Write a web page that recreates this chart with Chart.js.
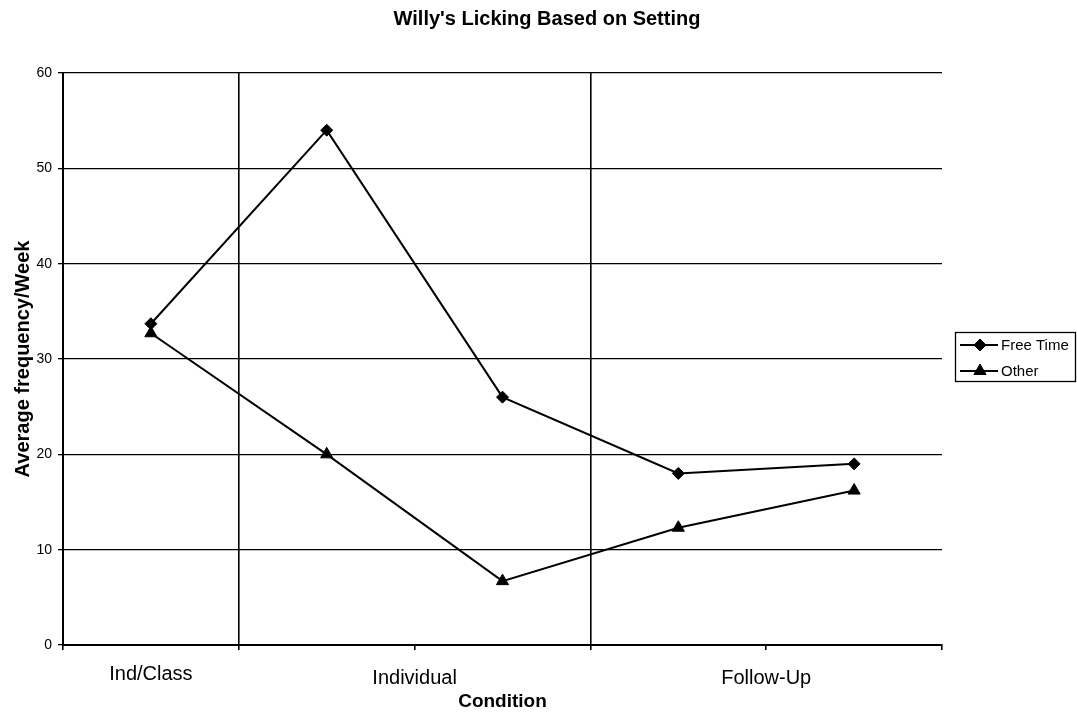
<!DOCTYPE html>
<html>
<head>
<meta charset="utf-8">
<script src="https://cdn.jsdelivr.net/npm/chart.js@4/dist/chart.umd.min.js"></script>
<style>
html,body{margin:0;padding:0;background:#fff;}
#wrap{width:1077px;height:713px;position:relative;}
</style>
</head>
<body>
<div id="wrap"><canvas id="c" width="1077" height="713"></canvas></div>
<script>
const categories = ['1', '2', '3', '4', '5'];
const freeTime = [33.7, 54.0, 26.0, 18.0, 19.0];
const other = [32.7, 20.0, 6.7, 12.3, 16.2];
const phaseLabels = ['Ind/Class', 'Individual', 'Follow-Up'];
const phasePositions = [0.5, 2, 4];
const phaseLineIndices = [1, 3];
const yTicks = [0, 10, 20, 30, 40, 50, 60];
const chartTitle = "Willy's Licking Based on Setting";
const seriesNames = ['Free Time', 'Other'];

const FONT = 'Arial, "Liberation Sans", sans-serif';

const decorPlugin = {
  id: 'decor',
  afterDraw(chart) {
    const ctx = chart.ctx;
    ctx.save();
    // title
    ctx.fillStyle = '#000';
    ctx.font = 'bold 20px ' + FONT;
    ctx.textAlign = 'center';
    ctx.textBaseline = 'alphabetic';
    ctx.fillText(chartTitle, 547, 25);
    // legend
    ctx.strokeStyle = '#000';
    ctx.lineWidth = 1.3;
    ctx.strokeRect(955.5, 332.5, 120, 49);
    const items = [
      {label: seriesNames[0], style: 'rectRot', r: 6, y: 345},
      {label: seriesNames[1], style: 'triangle', r: 7, y: 371}
    ];
    items.forEach(it => {
      ctx.beginPath();
      ctx.strokeStyle = '#000';
      ctx.lineWidth = 2;
      ctx.moveTo(960, it.y);
      ctx.lineTo(998, it.y);
      ctx.stroke();
      ctx.fillStyle = '#000';
      ctx.lineWidth = 1;
      Chart.helpers.drawPoint(ctx, {pointStyle: it.style, radius: it.r, borderWidth: 1}, 980, it.y);
      ctx.fillStyle = '#000';
      ctx.font = '15px ' + FONT;
      ctx.textBaseline = 'middle';
      ctx.textAlign = 'left';
      ctx.fillText(it.label, 1001, it.y + 1);
    });
    ctx.restore();
  }
};

new Chart(document.getElementById('c'), {
  type: 'line',
  data: {
    labels: categories,
    datasets: [
      {label: seriesNames[0], data: freeTime, borderColor: '#000', backgroundColor: '#000',
       borderWidth: 2, pointStyle: 'rectRot', pointRadius: 6, pointBorderWidth: 1, tension: 0},
      {label: seriesNames[1], data: other, borderColor: '#000', backgroundColor: '#000',
       borderWidth: 2, pointStyle: 'triangle', pointRadius: 7, pointBorderWidth: 1, tension: 0}
    ]
  },
  options: {
    responsive: false,
    animation: false,
    layout: {padding: {left: 0, right: 135, top: 73, bottom: 0}},
    plugins: {
      legend: {display: false},
      tooltip: {enabled: false},
      title: {display: false}
    },
    scales: {
      x: {
        type: 'category',
        offset: true,
        grid: {offset: true, drawTicks: true, tickLength: 5, tickColor: '#000',
          color: (c) => phaseLineIndices.includes(c.index) ? '#000' : 'rgba(0,0,0,0)', lineWidth: 1.6},
        border: {display: true, color: '#000', width: 2},
        ticks: {display: false},
        afterFit(s) { s.height = 6; }
      },
      phase: {
        type: 'linear',
        position: 'bottom',
        min: 0, max: 5,
        grid: {display: false, drawTicks: false},
        border: {display: false},
        afterBuildTicks(s) { s.ticks = phasePositions.map(v => ({value: v})); },
        ticks: {
          autoSkip: false, maxRotation: 0, padding: 22, color: '#000',
          font: {family: FONT, size: 20, lineHeight: 0.17},
          callback: (v, i) => i === 0 ? phaseLabels[0] : ['', phaseLabels[i]]
        },
        title: {display: true, text: 'Condition', color: '#000',
          font: {family: FONT, size: 19, weight: 'bold'}, padding: {top: 0, bottom: 0}},
        afterFit(s) { s.height = 62; }
      },
      y: {
        min: 0, max: 60,
        afterBuildTicks(s) { s.ticks = yTicks.map(v => ({value: v})); },
        grid: {color: '#000', lineWidth: 1.3, tickLength: 5, tickColor: '#000'},
        border: {display: true, color: '#000', width: 2},
        ticks: {color: '#000', padding: 6, font: {family: FONT, size: 14}},
        title: {display: true, text: 'Average frequency/Week', color: '#000',
          font: {family: FONT, size: 20, weight: 'bold'}, padding: {top: 11, bottom: 0}},
        afterFit(s) { s.width = 63; }
      }
    }
  },
  plugins: [decorPlugin]
});
</script>
</body>
</html>
